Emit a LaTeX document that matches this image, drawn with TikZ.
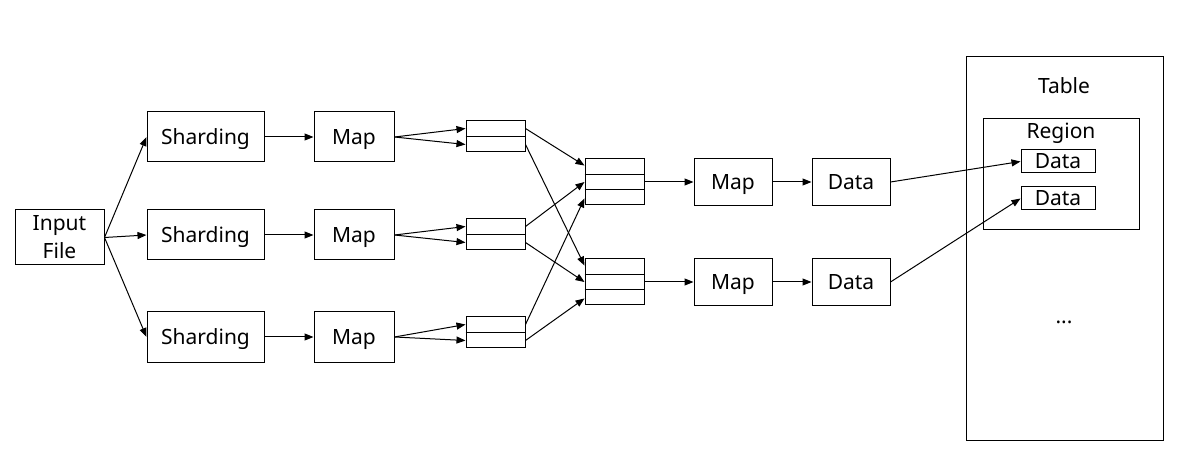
\documentclass[tikz,border=0pt]{standalone}
\usepackage{fontspec}
\setmainfont{Noto Sans}
\usetikzlibrary{arrows.meta,calc}
\begin{document}
\begin{tikzpicture}[x=1pt,y=-1pt,
  font=\fontsize{21}{28}\selectfont,
  every path/.style={line width=1pt},
  lbl/.style={text height=15pt,text depth=0pt},
  box/.style={draw,rectangle,inner sep=0pt,minimum width=#1,lbl},
  proc/.style={box=117pt,minimum height=50pt},
  mapbox/.style={box=80pt,minimum height=50pt},
  outbox/.style={box=78pt,minimum height=47pt},
  queue/.style={box=59pt,minimum height=31pt},
  bucket/.style={box=59pt,minimum height=46pt},
  link/.style={-{Triangle[length=9pt,width=7pt]}}]
\useasboundingbox (0,0) rectangle (1197,462);

% input and sharding
\node[draw,rectangle,inner sep=0pt,minimum width=89pt,minimum height=55pt,align=center] (in) at (59.5,237.5) {Input\\File};
\foreach \i/\y/\qy in {1/137/136.5,2/235/234.5,3/337/332.5}{
  \node[proc] (s\i) at (205.5,\y) {Sharding};
  \node[mapbox] (m\i) at (354,\y) {Map};
  \node[queue] (q\i) at (495.5,\qy) {};
  \draw (q\i.west) -- (q\i.east);
  \coordinate (q\i a) at ($(q\i.north east)!0.25!(q\i.south east)$);
  \coordinate (q\i b) at ($(q\i.north east)!0.75!(q\i.south east)$);
  \draw[link] (in.east) -- (s\i.west);
  \draw[link] (s\i) -- (m\i);
  \draw[link] (m\i.east) -- ($(q\i.north west)!0.25!(q\i.south west)$);
  \draw[link] (m\i.east) -- ($(q\i.north west)!0.75!(q\i.south west)$);
}

% reduce buckets, map and data
\foreach \j/\y in {A/182,B/282}{
  \node[bucket] (r\j) at (614.5,\y) {};
  \draw ($(r\j.north west)!1/3!(r\j.south west)$) -- ($(r\j.north east)!1/3!(r\j.south east)$);
  \draw ($(r\j.north west)!2/3!(r\j.south west)$) -- ($(r\j.north east)!2/3!(r\j.south east)$);
  \foreach \k/\f in {1/0.15,2/0.5,3/0.85}{
    \coordinate (r\j\k) at ($(r\j.north west)!\f!(r\j.south west)$);
  }
  \node[outbox] (n\j) at (733,\y) {Map};
  \node[outbox] (d\j) at (851,\y) {Data};
  \draw[link] (r\j) -- (n\j);
  \draw[link] (n\j) -- (d\j);
}

\draw[link] (q1a) -- (rA1);
\draw[link] (q1b) -- (rB1);
\draw[link] (q2a) -- (rA2);
\draw[link] (q2b) -- (rB2);
\draw[link] (q3a) -- (rA3);
\draw[link] (q3b) -- (rB3);

% table with one region
\node[draw,rectangle,inner sep=0pt,minimum width=197pt,minimum height=383pt] (table) at (1064.5,248.5) {};
\node[lbl,inner sep=0pt] (ttl) at (1064,86) {Table};
\node[draw,rectangle,inner sep=0pt,minimum width=156pt,minimum height=111pt] (region) at (1061,174.5) {};
\node[lbl,inner sep=0pt] (rttl) at (1061,131) {Region};
\node[box=74pt,minimum height=23pt] (t1) at (1058,161.5) {Data};
\node[box=74pt,minimum height=23pt] (t2) at (1058,198.5) {Data};
\node (more) at (1064,322) {...};

\draw[link] (dA.east) -- (t1.west);
\draw[link] (dB.east) -- (t2.west);
\end{tikzpicture}
\end{document}
